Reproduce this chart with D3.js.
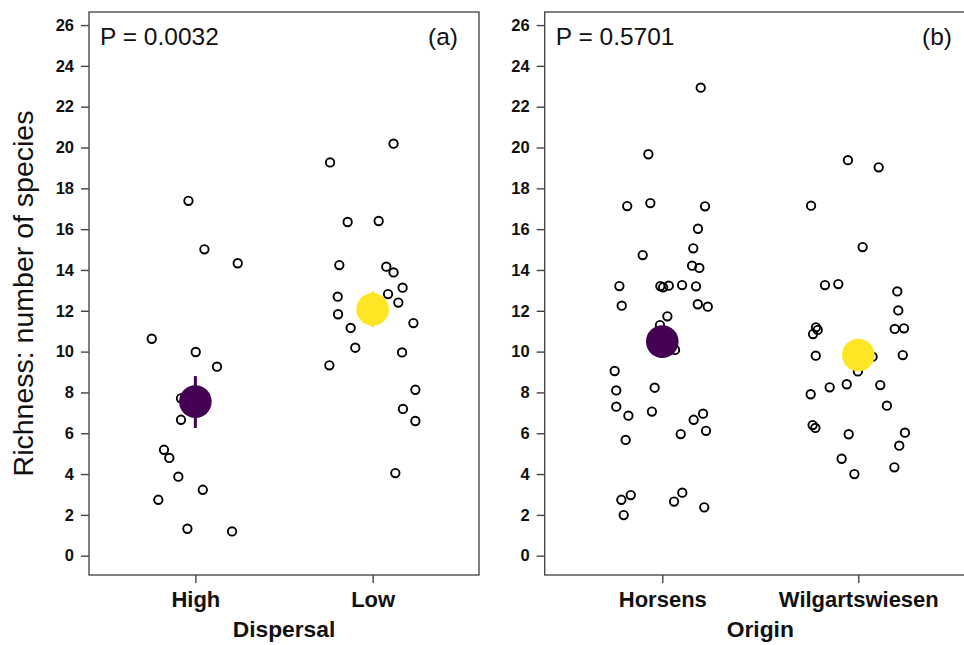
<!DOCTYPE html>
<html>
<head>
<meta charset="utf-8">
<script src="https://cdn.jsdelivr.net/npm/d3@7"></script>
<style>
  body { margin: 0; background: #fff; }
  svg { display: block; font-family: "Liberation Sans", Arial, sans-serif; }
</style>
</head>
<body>
<svg id="chart" width="964" height="645"></svg>
<script>
// y axis ticks
var yTicks = [0, 2, 4, 6, 8, 10, 12, 14, 16, 18, 20, 22, 24, 26]

// panel (a) Dispersal
var dispersalCats = ["High", "Low"]
var highRichness = [17.39, 15.01, 14.33, 10.63, 9.98, 9.26, 7.71, 6.66, 5.19, 4.79, 3.87, 3.23, 2.74, 1.32, 1.19]
var highJitter = [-0.039, 0.051, 0.239, -0.246, 0.002, 0.122, -0.081, -0.081, -0.177, -0.147, -0.096, 0.042, -0.209, -0.045, 0.207]
var lowRichness = [19.27, 20.19, 16.35, 16.40, 14.24, 14.16, 13.88, 13.13, 12.82, 12.69, 12.40, 11.83, 11.40, 11.16, 10.19, 9.33, 9.96, 8.13, 7.19, 6.60, 4.05]
var lowJitter = [-0.240, 0.118, -0.141, 0.034, -0.188, 0.077, 0.118, 0.169, 0.087, -0.197, 0.145, -0.195, 0.230, -0.124, -0.098, -0.244, 0.166, 0.241, 0.171, 0.241, 0.128]
var dispersalMeans = [7.55, 12.07]
var dispersalLower = [6.26, 11.2]
var dispersalUpper = [8.80, 12.95]

// panel (b) Origin
var originCats = ["Horsens", "Wilgartswiesen"]
var horsensRichness = [22.93, 19.67, 17.13, 17.28, 17.12, 16.02, 14.73, 15.06, 14.21, 14.10, 13.21, 13.21, 13.15, 13.23, 13.26, 13.20, 12.25, 12.32, 12.20, 11.73, 11.30, 10.08, 9.05, 8.10, 8.23, 7.30, 6.86, 7.06, 6.66, 6.96, 5.96, 6.12, 5.67, 2.74, 2.97, 1.99, 2.65, 3.09, 2.37]
var horsensJitter = [0.196, -0.071, -0.179, -0.061, 0.218, 0.182, -0.100, 0.158, 0.152, 0.189, -0.219, -0.010, 0.004, 0.033, 0.101, 0.172, -0.207, 0.181, 0.232, 0.026, -0.012, 0.065, -0.243, -0.235, -0.039, -0.235, -0.173, -0.053, 0.160, 0.208, 0.094, 0.223, -0.187, -0.209, -0.161, -0.197, 0.060, 0.102, 0.214]
var wilgRichness = [19.38, 19.03, 17.15, 15.12, 13.26, 13.31, 12.95, 12.02, 11.19, 11.06, 10.86, 11.11, 11.14, 9.80, 9.83, 9.75, 9.03, 8.25, 8.40, 8.36, 7.91, 7.35, 6.40, 6.26, 5.95, 6.03, 5.39, 4.75, 4.00, 4.33]
var wilgJitter = [-0.053, 0.104, -0.241, 0.022, -0.170, -0.102, 0.199, 0.204, -0.216, -0.207, -0.231, 0.186, 0.233, -0.217, 0.227, 0.073, -0.002, -0.146, -0.059, 0.112, -0.243, 0.146, -0.233, -0.219, -0.049, 0.238, 0.209, -0.085, -0.020, 0.184]
var originMeans = [10.49, 9.83]
var originLower = [9.85, 9.2]
var originUpper = [11.15, 10.45]

var pLabels = ["P = 0.0032", "P = 0.5701"]
var panelTags = ["(a)", "(b)"]
var xTitles = ["Dispersal", "Origin"]
var yTitle = "Richness: number of species"

var meanColours = ["#440154", "#FDE725"]

var svg = d3.select("#chart")
var plotTop = 12, plotBottom = 575

var yScale = d3.scaleLinear()
    .domain([-0.946, 26.64])
    .range([plotBottom, plotTop])

function drawPanel(left, right, cats, groups, means, lower, upper, pLabel, tag, xTitle) {
  var xScale = d3.scalePoint()
      .domain(cats)
      .range([left, right])
      .padding(0.6)
  var step = xScale.step()

  var g = svg.append("g")

  // y axis
  var yAx = g.append("g")
      .attr("transform", "translate(" + left + ",0)")
      .call(d3.axisLeft(yScale).tickValues(yTicks).tickSize(8).tickPadding(7))
  yAx.select(".domain").remove()
  yAx.selectAll("line").attr("stroke", "#444").attr("stroke-width", 1.4)
  yAx.selectAll("text")
      .attr("font-size", "16.5px")
      .attr("font-weight", "bold")
      .attr("fill", "#111")

  // x axis
  var xAx = g.append("g")
      .attr("transform", "translate(0," + plotBottom + ")")
      .call(d3.axisBottom(xScale).tickSize(8).tickPadding(8))
  xAx.select(".domain").remove()
  xAx.selectAll("line").attr("stroke", "#444").attr("stroke-width", 1.4)
  xAx.selectAll("text")
      .attr("font-size", "22px")
      .attr("font-weight", "bold")
      .attr("fill", "#111")

  // raw points
  groups.forEach(function(grp, i) {
    g.selectAll(null)
      .data(d3.zip(grp.richness, grp.jitter))
      .enter().append("circle")
      .attr("cx", function(d) { return xScale(cats[i]) + d[1] * step })
      .attr("cy", function(d) { return yScale(d[0]) })
      .attr("r", 4.2)
      .attr("fill", "none")
      .attr("stroke", "#000")
      .attr("stroke-width", 1.9)
  })

  // error bars + means
  cats.forEach(function(c, i) {
    g.append("line")
      .attr("x1", xScale(c)).attr("x2", xScale(c))
      .attr("y1", yScale(lower[i])).attr("y2", yScale(upper[i]))
      .attr("stroke", meanColours[i])
      .attr("stroke-width", 3)
    g.append("circle")
      .attr("cx", xScale(c))
      .attr("cy", yScale(means[i]))
      .attr("r", 16.3)
      .attr("fill", meanColours[i])
  })

  // frame
  g.append("rect")
    .attr("x", left).attr("y", plotTop)
    .attr("width", right - left).attr("height", plotBottom - plotTop)
    .attr("fill", "none")
    .attr("stroke", "#4a4a4a")
    .attr("stroke-width", 1.4)

  g.append("text")
    .attr("x", left + 11).attr("y", 44.5)
    .attr("font-size", "24.5px")
    .attr("fill", "#111")
    .text(pLabel)

  g.append("text")
    .attr("x", Math.min(right, 964) - (right > 964 ? 12 : 21)).attr("y", 44.5)
    .attr("text-anchor", "end")
    .attr("font-size", "24.5px")
    .attr("fill", "#111")
    .text(tag)

  g.append("text")
    .attr("x", (left + right) / 2).attr("y", 637)
    .attr("text-anchor", "middle")
    .attr("font-size", "22.8px")
    .attr("font-weight", "bold")
    .attr("fill", "#111")
    .text(xTitle)
}

drawPanel(89, 479, dispersalCats,
  [{richness: highRichness, jitter: highJitter}, {richness: lowRichness, jitter: lowJitter}],
  dispersalMeans, dispersalLower, dispersalUpper, pLabels[0], panelTags[0], xTitles[0])

drawPanel(544.7, 975.9, originCats,
  [{richness: horsensRichness, jitter: horsensJitter}, {richness: wilgRichness, jitter: wilgJitter}],
  originMeans, originLower, originUpper, pLabels[1], panelTags[1], xTitles[1])

svg.append("text")
  .attr("transform", "translate(33," + ((plotTop + plotBottom) / 2) + ") rotate(-90)")
  .attr("text-anchor", "middle")
  .attr("font-size", "28.5px")
  .attr("fill", "#111")
  .text(yTitle)
</script>
</body>
</html>
